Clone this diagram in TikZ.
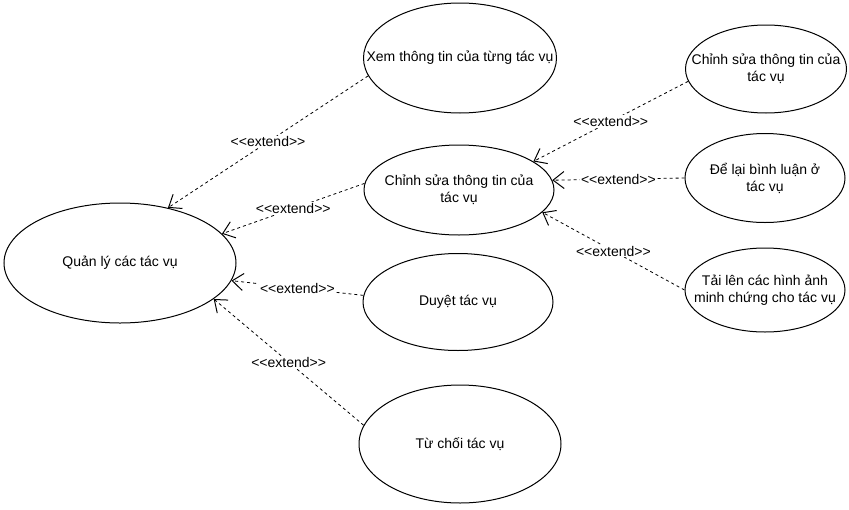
\documentclass[tikz,border=0pt]{standalone}
\usepackage{fontspec}
\setmainfont{Liberation Sans}[Ligatures=TeXOff]
\usepackage{tikz}
\usetikzlibrary{arrows.meta,shapes.geometric}

\tikzset{
  usecase/.style={ellipse,draw,line width=1pt,fill=white,inner sep=0pt},
  uctext/.style={shape=rectangle,draw=none,fill=none,align=center,inner sep=0pt},
  extarrow/.style={draw,line width=0.8pt,dash pattern=on 3pt off 3pt,
    -{Straight Barb[length=11pt,width=17pt,line width=1pt]}}
}

\begin{document}
\begin{tikzpicture}[x=1pt,y=-1pt,font=\fontsize{14}{17}\selectfont]
    \useasboundingbox (0,0) rectangle (849,509);

    %Use cases
     \begin{scope}[every node/.style={usecase},every label/.style={uctext}]
       \node[minimum width=232pt,minimum height=120pt,
             label={center:{Quản lý các tác vụ}}] (quanly) at (120,263) {};
       \node[minimum width=193pt,minimum height=110pt,
             label={center:{Xem thông tin của từng tác vụ}}] (xem) at (460,58) {};
       \node[minimum width=190pt,minimum height=90pt,
             label={center:{Chỉnh sửa thông tin của\\tác vụ}}] (chinhsua) at (459,190) {};
       \node[minimum width=190pt,minimum height=97pt,
             label={center:{Duyệt tác vụ}}] (duyet) at (458,302) {};
       \node[minimum width=202pt,minimum height=118pt,
             label={center:{Từ chối tác vụ}}] (tuchoi) at (460,444) {};
       \node[minimum width=161pt,minimum height=88pt,
             label={center:{Chỉnh sửa thông tin của\\tác vụ}}] (suatt) at (766,69) {};
       \node[minimum width=160pt,minimum height=89pt,
             label={center:{Để lại bình luận ở\\tác vụ}}] (binhluan) at (765,178) {};
       \node[minimum width=160pt,minimum height=84pt,
             label={center:{Tải lên các hình ảnh\\minh chứng cho tác vụ}}] (taianh) at (765,290) {};
    \end{scope}

    %Extend relations
    \begin{scope}[every edge/.style={extarrow},
       every node/.style={fill=white,inner sep=1pt}]
      \path (xem.-169) edge node {<<extend>>} (quanly.49);
      \path (chinhsua.176) edge node {<<extend>>} (quanly.16);
      \path (duyet.176) edge node {<<extend>>} (quanly.-9);
      \path (tuchoi.169) edge node {<<extend>>} (quanly.-21);
      \path (suatt.-171) edge node {<<extend>>} (chinhsua.21);
      \path (binhluan.180) edge node {<<extend>>} (chinhsua.6);
      \path (taianh.180) edge node {<<extend>>} (chinhsua.-15);
    \end{scope}
  \end{tikzpicture}
\end{document}
